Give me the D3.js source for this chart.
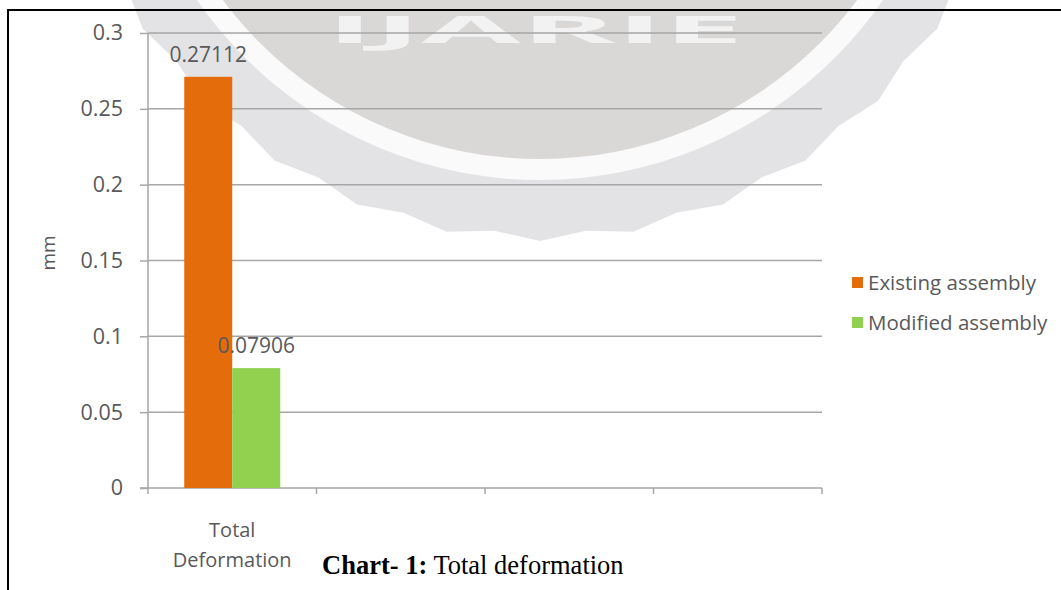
<!DOCTYPE html>
<html><head><meta charset="utf-8">
<script src="https://cdn.jsdelivr.net/npm/d3@7"></script>
<style>
body{margin:0;background:#fff}
svg{display:block}
</style>
</head><body>
<svg id="c" width="1061" height="590" font-family="Open Sans, sans-serif"></svg>
<script>
// ---- data ----
const categories = ["Total Deformation", "", "", ""];
const seriesNames = ["Existing assembly", "Modified assembly"];
const existingValues = [0.27112];
const modifiedValues = [0.07906];
const dataLabelsExisting = ["0.27112"];
const dataLabelsModified = ["0.07906"];
const yTicks = [0, 0.05, 0.1, 0.15, 0.2, 0.25, 0.3];
const yTickLabels = ["0", "0.05", "0.1", "0.15", "0.2", "0.25", "0.3"];
const yTitle = "mm";
const captionBold = "Chart- 1:";
const captionRest = " Total deformation";
const watermarkText = "IJARIE";

// ---- layout / style ----
const W = 1061, H = 590;
const plot = {left: 148, right: 822, top: 33, bottom: 488};
const colors = ["#E46C0A", "#92D050"];
const textColor = "#595959";
const gridColor = "#a6a6a6";

const svg = d3.select("#c");

// ---- watermark (decorative badge) ----
const wm = svg.append("g");
const cx = 540, cy = -237;
const nPts = 64;
const badge = d3.range(nPts).map(i => {
  const a = Math.PI / 2 + i * 2 * Math.PI / nPts;
  const r = (i % 2 === 0) ? 478 : 470;
  return [cx + r * Math.cos(a), cy + r * Math.sin(a)];
});
wm.append("path").attr("d", "M" + badge.join("L") + "Z").attr("fill", "#e3e3e5");
wm.append("circle").attr("cx", cx).attr("cy", cy).attr("r", 417).attr("fill", "#fafafa");
wm.append("circle").attr("cx", cx).attr("cy", cy).attr("r", 396).attr("fill", "#dad7d7");
wm.append("text").attr("x", 326).attr("y", 43)
  .attr("textLength", 418).attr("lengthAdjust", "spacingAndGlyphs")
  .attr("font-size", 38).attr("font-weight", "bold")
  .attr("fill", "#f2f2f2").text(watermarkText);

// ---- frame ----
svg.append("line").attr("x1", 7).attr("x2", W).attr("y1", 10).attr("y2", 10)
  .attr("stroke", "#000").attr("stroke-width", 2);
svg.append("line").attr("x1", 8).attr("x2", 8).attr("y1", 10).attr("y2", H)
  .attr("stroke", "#000").attr("stroke-width", 2);

// ---- scales ----
const x0 = d3.scaleBand().domain(d3.range(categories.length))
  .range([plot.left, plot.right]).paddingInner(0).paddingOuter(0);
const x1 = d3.scaleBand().domain(seriesNames)
  .range([0, x0.bandwidth()]).paddingInner(0).paddingOuter(0.755);
const y = d3.scaleLinear().domain([0, 0.3]).range([plot.bottom, plot.top]);

// ---- gridlines ----
svg.append("g").selectAll("line").data(yTicks.filter(v => v > 0)).join("line")
  .attr("x1", plot.left).attr("x2", plot.right)
  .attr("y1", d => y(d)).attr("y2", d => y(d))
  .attr("stroke", gridColor).attr("stroke-width", 1.5);

// ---- y axis ----
const yAxis = d3.axisLeft(y).tickValues(yTicks)
  .tickFormat((d, i) => yTickLabels[i]).tickSize(8).tickPadding(17);
const gy = svg.append("g").attr("transform", `translate(${plot.left},0)`).call(yAxis);
gy.attr("font-family", null).attr("font-size", null);
gy.select(".domain").attr("stroke", gridColor).attr("stroke-width", 1.5)
  .attr("d", `M0,${plot.top}V${plot.bottom}`);
gy.selectAll(".tick line").attr("stroke", gridColor).attr("stroke-width", 1.5);
gy.selectAll(".tick text").attr("fill", textColor).attr("font-size", 21.5);

// ---- x axis ----
const boundaries = d3.range(categories.length + 1).map(i =>
  i < categories.length ? x0(i) : x0(categories.length - 1) + x0.bandwidth());
const gx = svg.append("g");
gx.append("line").attr("x1", plot.left - 8).attr("x2", plot.right)
  .attr("y1", y(0)).attr("y2", y(0)).attr("stroke", gridColor).attr("stroke-width", 1.5);
gx.selectAll(".xt").data(boundaries).join("line").attr("class", "xt")
  .attr("x1", d => d).attr("x2", d => d)
  .attr("y1", y(0)).attr("y2", y(0) + 6)
  .attr("stroke", gridColor).attr("stroke-width", 1.5);
categories.forEach((c, i) => {
  if (!c) return;
  const words = c.split(" ");
  const t = gx.append("text").attr("text-anchor", "middle")
    .attr("fill", textColor).attr("font-size", 20);
  words.forEach((w, j) => {
    t.append("tspan").attr("x", x0(i) + x0.bandwidth() / 2)
      .attr("y", 537 + j * 30).text(w);
  });
});

// ---- bars ----
const seriesValues = [existingValues, modifiedValues];
const seriesLabels = [dataLabelsExisting, dataLabelsModified];
seriesNames.forEach((s, si) => {
  const g = svg.append("g");
  g.selectAll("rect").data(seriesValues[si]).join("rect")
    .attr("x", (d, i) => x0(i) + x1(s))
    .attr("width", x1.bandwidth())
    .attr("y", d => y(d))
    .attr("height", d => y(0) - y(d))
    .attr("fill", colors[si]);
});
seriesNames.forEach((s, si) => {
  svg.append("g").selectAll("text").data(seriesValues[si]).join("text")
    .attr("x", (d, i) => x0(i) + x1(s) + x1.bandwidth() / 2)
    .attr("y", d => y(d) - 15)
    .attr("text-anchor", "middle").attr("fill", textColor).attr("font-size", 21)
    .text((d, i) => seriesLabels[si][i]);
});

// ---- y title ----
svg.append("text").attr("transform", "translate(55,253) rotate(-90)")
  .attr("text-anchor", "middle").attr("fill", textColor).attr("font-size", 19)
  .text(yTitle);

// ---- legend ----
const lg = svg.append("g");
seriesNames.forEach((s, i) => {
  const ly = 283 + i * 40;
  lg.append("rect").attr("x", 852).attr("y", ly - 6).attr("width", 11).attr("height", 11)
    .attr("fill", colors[i]);
  lg.append("text").attr("x", 868).attr("y", ly + 7).attr("fill", textColor)
    .attr("font-size", 20.5).text(s);
});

// ---- caption ----
const cap = svg.append("text").attr("x", 322).attr("y", 574)
  .attr("font-family", "Liberation Serif, Times New Roman, serif")
  .attr("font-size", 26.5).attr("fill", "#000");
cap.append("tspan").attr("font-weight", "bold").text(captionBold);
cap.append("tspan").text(captionRest);
</script>
</body></html>
